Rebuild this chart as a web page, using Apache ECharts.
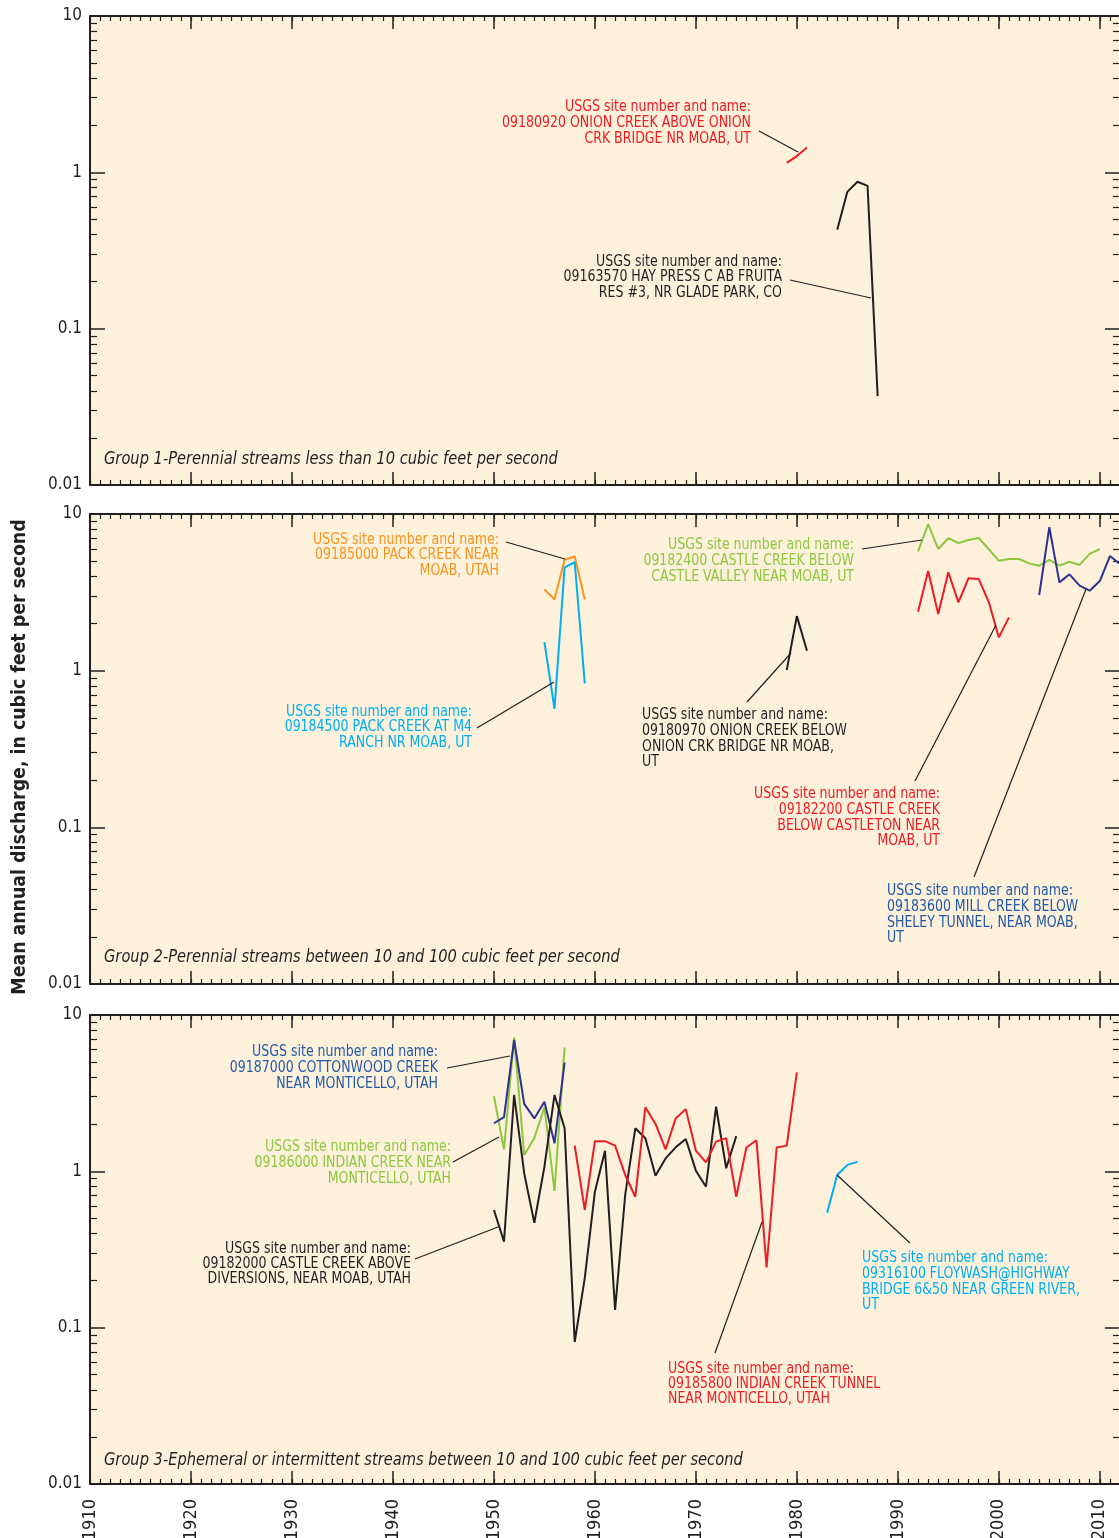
<!DOCTYPE html>
<html>
<head>
<meta charset="utf-8">
<script src="https://cdn.jsdelivr.net/npm/echarts@6/dist/echarts.min.js"></script>
<style>
  html, body { margin: 0; padding: 0; background: #ffffff; }
  #chart { width: 1119px; height: 1538px; }
</style>
</head>
<body>
<div id="chart"></div>
<script>
// ---- Axis ranges and tick values ----
const yearMin = 1910;
const yearMax = 2012;
const yearMajorStep = 10;
const flowMin = 0.01;
const flowMax = 10;
const flowMinorTicks = [0.02, 0.03, 0.04, 0.05, 0.06, 0.07, 0.08, 0.09,
                        0.2, 0.3, 0.4, 0.5, 0.6, 0.7, 0.8, 0.9,
                        2, 3, 4, 5, 6, 7, 8, 9];

// ---- Group 1: perennial streams < 10 ft3/s ----
const years09180920 = [1979, 1980, 1981];
const flow09180920 = [1.15, 1.27, 1.44];
const years09163570 = [1984, 1985, 1986, 1987, 1988];
const flow09163570 = [0.43, 0.75, 0.87, 0.82, 0.037];

// ---- Group 2: perennial streams 10-100 ft3/s ----
const years09185000 = [1955, 1956, 1957, 1958, 1959];
const flow09185000 = [3.3, 2.85, 5.1, 5.35, 2.85];
const years09184500 = [1955, 1956, 1957, 1958, 1959];
const flow09184500 = [1.52, 0.57, 4.57, 4.92, 0.83];
const years09180970 = [1979, 1980, 1981];
const flow09180970 = [1.01, 2.23, 1.34];
const years09182400 = [1992, 1993, 1994, 1995, 1996, 1997, 1998, 1999, 2000, 2001,
                       2002, 2003, 2004, 2005, 2006, 2007, 2008, 2009, 2010];
const flow09182400 = [5.75, 8.63, 5.98, 7.0, 6.53, 6.82, 7.03, 5.98, 5.03, 5.16,
                      5.16, 4.84, 4.68, 5.09, 4.68, 4.96, 4.73, 5.56, 5.98];
const years09182200 = [1992, 1993, 1994, 1995, 1996, 1997, 1998, 1999, 2000, 2001];
const flow09182200 = [2.38, 4.33, 2.30, 4.25, 2.73, 3.89, 3.85, 2.75, 1.63, 2.19];
const years09183600 = [2004, 2005, 2006, 2007, 2008, 2009, 2010, 2011, 2012];
const flow09183600 = [3.04, 8.23, 3.66, 4.12, 3.49, 3.24, 3.73, 5.39, 4.8];

// ---- Group 3: ephemeral or intermittent streams 10-100 ft3/s ----
const years09187000 = [1950, 1951, 1952, 1953, 1954, 1955, 1956, 1957];
const flow09187000 = [2.03, 2.22, 6.92, 2.70, 2.18, 2.79, 1.51, 4.95];
const years09186000 = [1950, 1951, 1952, 1953, 1954, 1955, 1956, 1957];
const flow09186000 = [3.03, 1.38, 7.2, 1.27, 1.63, 2.57, 0.75, 6.21];
const years09182000 = [1950, 1951, 1952, 1953, 1954, 1955, 1956, 1957, 1958, 1959,
                       1960, 1961, 1962, 1963, 1964, 1965, 1966, 1967, 1968, 1969,
                       1970, 1971, 1972, 1973, 1974];
const flow09182000 = [0.566, 0.355, 3.08, 0.971, 0.469, 1.07, 3.08, 1.885, 0.081, 0.208,
                      0.741, 1.355, 0.13, 0.706, 1.885, 1.627, 0.938, 1.21, 1.424, 1.61,
                      1.01, 0.797, 2.59, 1.046, 1.68];
const years09185800 = [1958, 1959, 1960, 1961, 1962, 1963, 1964, 1965, 1966, 1967,
                       1968, 1969, 1970, 1971, 1972, 1973, 1974, 1975, 1976, 1977,
                       1978, 1979, 1980];
const flow09185800 = [1.46, 0.566, 1.56, 1.56, 1.46, 0.947, 0.688, 2.57, 2.01, 1.38,
                      2.18, 2.50, 1.355, 1.14, 1.55, 1.63, 0.688, 1.42, 1.58, 0.243,
                      1.42, 1.46, 4.30];
const years09316100 = [1983, 1984, 1985, 1986];
const flow09316100 = [0.544, 0.947, 1.10, 1.15];

// ---- Style ----
const FONT = "'Liberation Sans Narrow','Arial Narrow','DejaVu Sans Condensed',sans-serif";
const BG = '#fdf1dc';
const INK = '#231f20';
const RED = '#ed1c24';
const ORANGE = '#f7941d';
const CYAN = '#00aeef';
const GREEN = '#8dc63f';
const NAVY = '#2e3192';
const BLUE_TEXT = '#2359a6';

const panels = [
  {
    top: 16, height: 469,
    title: 'Group 1-Perennial streams less than 10 cubic feet per second',
    titleY: 460,
    lines: [
      { years: years09180920, flow: flow09180920, color: RED },
      { years: years09163570, flow: flow09163570, color: INK }
    ]
  },
  {
    top: 514, height: 470,
    title: 'Group 2-Perennial streams between 10 and 100 cubic feet per second',
    titleY: 958,
    lines: [
      { years: years09185000, flow: flow09185000, color: ORANGE },
      { years: years09184500, flow: flow09184500, color: CYAN },
      { years: years09180970, flow: flow09180970, color: INK },
      { years: years09182400, flow: flow09182400, color: GREEN },
      { years: years09182200, flow: flow09182200, color: RED },
      { years: years09183600, flow: flow09183600, color: NAVY }
    ]
  },
  {
    top: 1015, height: 469,
    title: 'Group 3-Ephemeral or intermittent streams between 10 and 100 cubic feet per second',
    titleY: 1461,
    lines: [
      { years: years09186000, flow: flow09186000, color: GREEN },
      { years: years09187000, flow: flow09187000, color: NAVY },
      { years: years09182000, flow: flow09182000, color: INK },
      { years: years09185800, flow: flow09185800, color: RED },
      { years: years09316100, flow: flow09316100, color: CYAN }
    ]
  }
];

// Site call-outs: text block and leader line (pixel layout)
const callouts = [
  { text: 'USGS site number and name:\n09180920 ONION CREEK ABOVE ONION\nCRK BRIDGE NR MOAB, UT',
    color: RED, x: 751, y: 99, align: 'right', lh: 16, leader: [759, 131, 798, 152] },
  { text: 'USGS site number and name:\n09163570 HAY PRESS C AB FRUITA\nRES #3, NR GLADE PARK, CO',
    color: INK, x: 782, y: 254, align: 'right', lh: 15.5, leader: [790, 280, 871, 298] },
  { text: 'USGS site number and name:\n09185000 PACK CREEK NEAR\nMOAB, UTAH',
    color: ORANGE, x: 499, y: 532, align: 'right', lh: 15.5, leader: [506, 542, 565, 559] },
  { text: 'USGS site number and name:\n09184500 PACK CREEK AT M4\nRANCH NR MOAB, UT',
    color: CYAN, x: 472, y: 704, align: 'right', lh: 15.5, leader: [477, 728, 554, 682] },
  { text: 'USGS site number and name:\n09182400 CASTLE CREEK BELOW\nCASTLE VALLEY NEAR MOAB, UT',
    color: GREEN, x: 854, y: 537, align: 'right', lh: 16, leader: [862, 549, 922, 540] },
  { text: 'USGS site number and name:\n09180970 ONION CREEK BELOW\nONION CRK BRIDGE NR MOAB,\nUT',
    color: INK, x: 642, y: 707, align: 'left', lh: 15.8, leader: [747, 702, 791, 653] },
  { text: 'USGS site number and name:\n09182200 CASTLE CREEK\nBELOW CASTLETON NEAR\nMOAB, UT',
    color: RED, x: 940, y: 786, align: 'right', lh: 15.8, leader: [915, 781, 996, 625] },
  { text: 'USGS site number and name:\n09183600 MILL CREEK BELOW\nSHELEY TUNNEL, NEAR MOAB,\nUT',
    color: BLUE_TEXT, x: 887, y: 883, align: 'left', lh: 15.8, leader: [974, 877, 1086, 589] },
  { text: 'USGS site number and name:\n09187000 COTTONWOOD CREEK\nNEAR MONTICELLO, UTAH',
    color: BLUE_TEXT, x: 438, y: 1044, align: 'right', lh: 15.8, leader: [447, 1068, 510, 1056] },
  { text: 'USGS site number and name:\n09186000 INDIAN CREEK NEAR\nMONTICELLO, UTAH',
    color: GREEN, x: 451, y: 1139, align: 'right', lh: 15.8, leader: [453, 1162, 499, 1137] },
  { text: 'USGS site number and name:\n09182000 CASTLE CREEK ABOVE\nDIVERSIONS, NEAR MOAB, UTAH',
    color: INK, x: 411, y: 1241, align: 'right', lh: 15.3, leader: [415, 1259, 498, 1227] },
  { text: 'USGS site number and name:\n09185800 INDIAN CREEK TUNNEL\nNEAR MONTICELLO, UTAH',
    color: RED, x: 668, y: 1361, align: 'left', lh: 15.3, leader: [715, 1353, 762, 1222] },
  { text: 'USGS site number and name:\n09316100 FLOYWASH@HIGHWAY\nBRIDGE 6&50 NEAR GREEN RIVER,\nUT',
    color: CYAN, x: 862, y: 1250, align: 'left', lh: 15.8, leader: [910, 1243, 837, 1175] }
];

// ---- Axis builders ----
function xAxisMajor(gridIndex, position, withLabels) {
  return {
    type: 'value', gridIndex, position, min: yearMin, max: yearMax, interval: yearMajorStep,
    axisLine: { show: true, onZero: false, lineStyle: { color: INK, width: 2 } },
    axisTick: { show: true, inside: true, length: 13, lineStyle: { color: INK, width: 1.5 } },
    axisLabel: {
      show: withLabels, rotate: 90, margin: 15, color: INK, fontSize: 18, fontFamily: FONT,
      formatter: v => (v % yearMajorStep === 0 ? String(v) : '')
    },
    splitLine: { show: false }
  };
}
function xAxisMinor(gridIndex, position) {
  return {
    type: 'value', gridIndex, position, min: yearMin, max: yearMax, interval: 1,
    axisLine: { show: false, onZero: false },
    axisTick: { show: true, inside: true, length: 5, lineStyle: { color: INK, width: 1.2 } },
    axisLabel: { show: false },
    splitLine: { show: false }
  };
}
function yAxisMajor(gridIndex, position, withLabels) {
  return {
    type: 'log', logBase: 10, gridIndex, position, min: flowMin, max: flowMax,
    axisLine: { show: true, lineStyle: { color: INK, width: 2 } },
    axisTick: { show: true, inside: true, length: 15, lineStyle: { color: INK, width: 1.5 } },
    axisLabel: {
      show: withLabels, margin: 8, color: INK, fontSize: 17, fontFamily: FONT,
      formatter: v => String(+Number(v).toPrecision(6))
    },
    splitLine: { show: false }
  };
}
function yAxisMinor(gridIndex, position) {
  return {
    type: 'log', logBase: 10, gridIndex, position, min: flowMin, max: flowMax,
    axisLine: { show: false },
    axisTick: { show: true, inside: true, length: 7, customValues: flowMinorTicks,
                lineStyle: { color: INK, width: 1.2 } },
    axisLabel: { show: false },
    splitLine: { show: false }
  };
}

const grids = [], xAxes = [], yAxes = [], series = [], graphics = [];

panels.forEach((p, gi) => {
  grids.push({ left: 90, width: 1030, top: p.top, height: p.height, show: true,
               backgroundColor: BG, borderWidth: 0, containLabel: false, outerBoundsMode: 'none' });
  const xi = xAxes.length;
  xAxes.push(xAxisMajor(gi, 'bottom', gi === panels.length - 1));
  xAxes.push(xAxisMinor(gi, 'bottom'));
  xAxes.push(xAxisMajor(gi, 'top', false));
  xAxes.push(xAxisMinor(gi, 'top'));
  const yi = yAxes.length;
  yAxes.push(yAxisMajor(gi, 'left', true));
  yAxes.push(yAxisMinor(gi, 'left'));
  yAxes.push(yAxisMajor(gi, 'right', false));
  yAxes.push(yAxisMinor(gi, 'right'));

  p.lines.forEach(l => {
    series.push({
      type: 'line', xAxisIndex: xi, yAxisIndex: yi,
      data: l.years.map((yr, i) => [yr, l.flow[i]]),
      symbol: 'none', showSymbol: false, silent: true, animation: false,
      lineStyle: { color: l.color, width: 2 }, z: 3
    });
  });

  graphics.push({
    type: 'text', x: 104, y: p.titleY, z: 50, silent: true, scaleX: 0.958,
    style: { text: p.title, font: 'italic 17px ' + FONT, fill: INK, align: 'left', verticalAlign: 'middle' }
  });
});

callouts.forEach(c => {
  graphics.push({
    type: 'line', z: 40, silent: true,
    shape: { x1: c.leader[0], y1: c.leader[1], x2: c.leader[2], y2: c.leader[3] },
    style: { stroke: INK, lineWidth: 1.2 }
  });
  graphics.push({
    type: 'text', x: c.x, y: c.y, z: 50, silent: true, scaleX: 0.9,
    style: { text: c.text, font: '15.5px ' + FONT, fill: c.color, align: c.align,
             verticalAlign: 'top', lineHeight: c.lh }
  });
});

graphics.push({
  type: 'text', x: 20, y: 757, rotation: Math.PI / 2, z: 50, silent: true, scaleX: 0.965,
  style: { text: 'Mean annual discharge, in cubic feet per second', font: 'bold 20px ' + FONT,
           fill: INK, align: 'center', verticalAlign: 'middle' }
});

const chart = echarts.init(document.getElementById('chart'), null, { renderer: 'canvas' });
chart.setOption({
  animation: false,
  backgroundColor: '#ffffff',
  grid: grids,
  xAxis: xAxes,
  yAxis: yAxes,
  series: series,
  graphic: graphics
});
</script>
</body>
</html>
